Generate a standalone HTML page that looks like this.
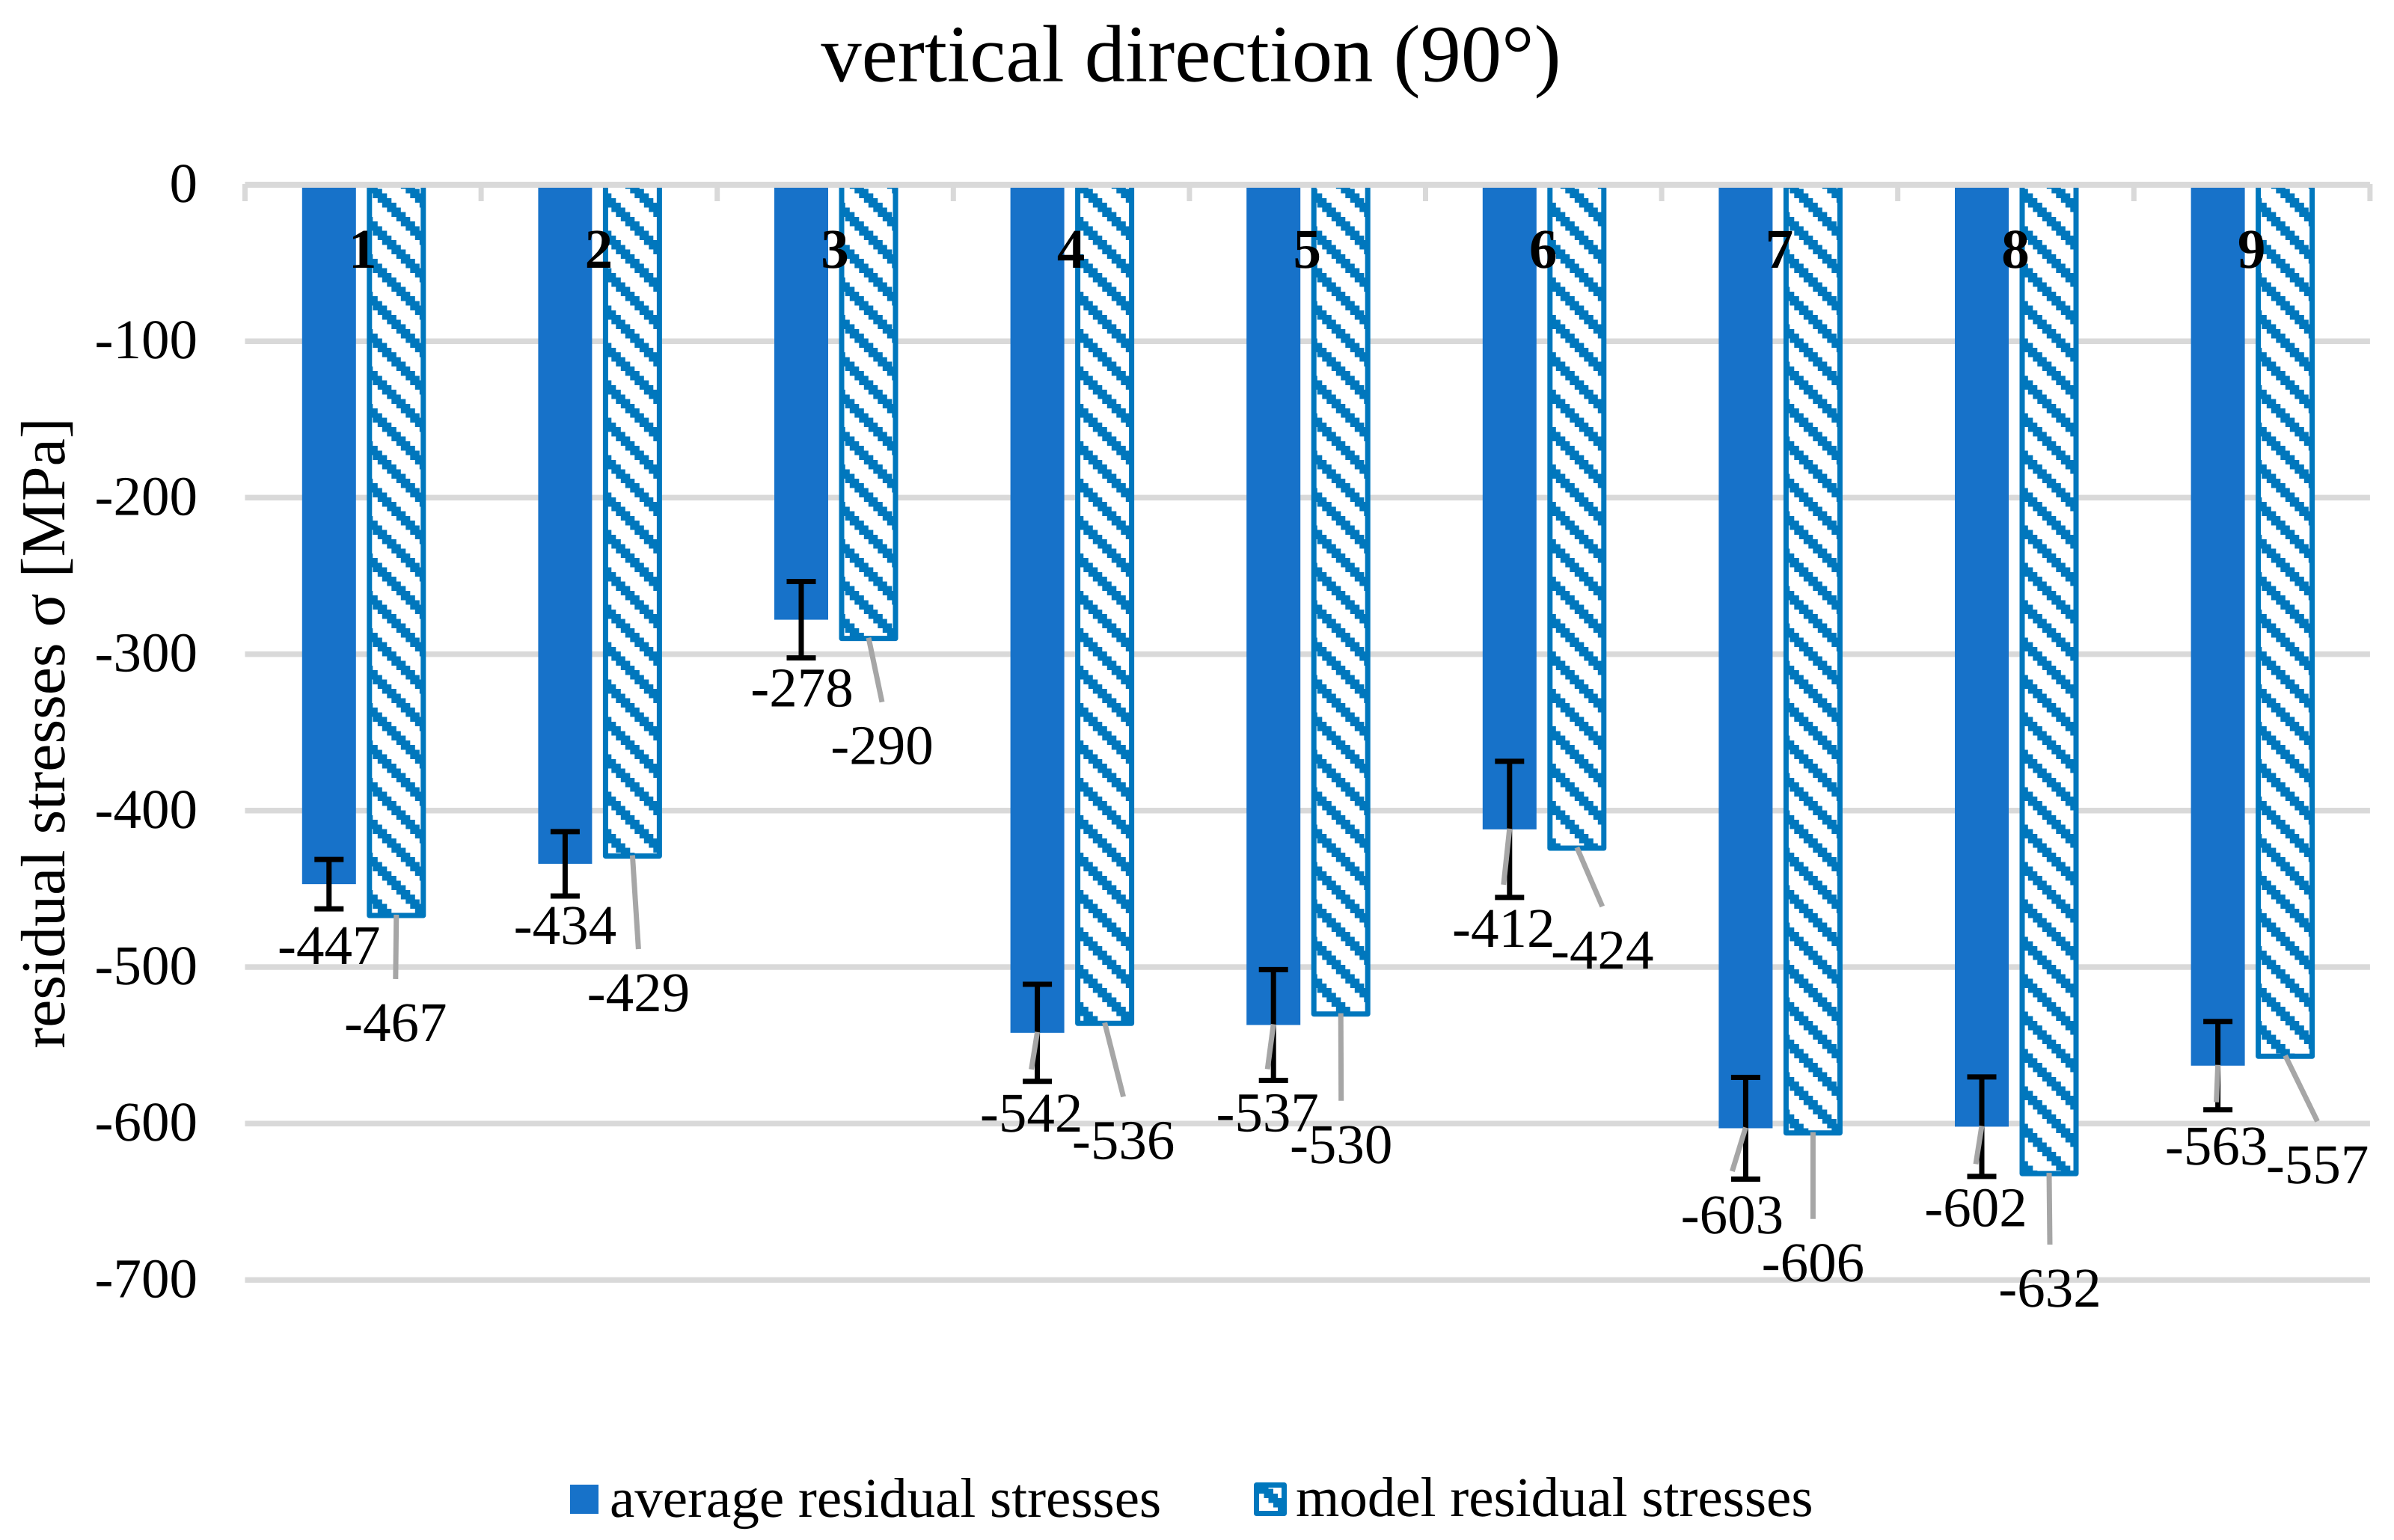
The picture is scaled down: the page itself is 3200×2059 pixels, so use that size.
<!DOCTYPE html>
<html lang="en">
<head>
<meta charset="utf-8">
<title>vertical direction (90°)</title>
<style>
html,body{margin:0;padding:0;background:#fff;width:3200px;height:2059px;overflow:hidden}
svg{display:block}
text{font-family:"Liberation Serif","DejaVu Serif",serif;fill:#000;text-rendering:geometricPrecision}
</style>
</head>
<body>
<svg id="chart" xmlns="http://www.w3.org/2000/svg" width="3200" height="2059" viewBox="0 0 3200 2059">
  <defs>
    <pattern id="hatch" x="498.3" y="296" width="50" height="50" patternUnits="userSpaceOnUse"></pattern>
    <pattern id="hatch-legend" x="1683" y="1978" width="50" height="50" patternUnits="userSpaceOnUse"></pattern>
  </defs>
  <rect x="0" y="0" width="3200" height="2059" fill="#ffffff"/>
  <text x="1592" y="108.5" font-size="108.5" text-anchor="middle">vertical direction (90°)</text>
  <text transform="translate(86 980) rotate(-90)" font-size="83.8" text-anchor="middle">residual stresses σ [MPa]</text>
  <g id="plot"></g>
  <g>
    <g>
      <rect x="762" y="1985" width="38" height="39" fill="#1772c9"/>
      <text x="815" y="2028" font-size="75">average residual stresses</text>
    </g>
    <g>
      <rect x="1679.5" y="1985.5" width="37" height="38" fill="url(#hatch-legend)" stroke="#0077bd" stroke-width="7" stroke-linejoin="round"/>
      <text x="1732" y="2027" font-size="75">model residual stresses</text>
    </g>
  </g>
</svg>
<script>
// ---- chart data ----
const categories = [1, 2, 3, 4, 5, 6, 7, 8, 9];
const averageStress = [-447, -434, -278, -542, -537, -412, -603, -602, -563];
const modelStress = [-467, -429, -290, -536, -530, -424, -606, -632, -557];
const averageError = [15.8, 20.6, 24.4, 31, 35.4, 43.5, 32.5, 31.8, 28.2];
const yTickValues = [0, -100, -200, -300, -400, -500, -600, -700];

// ---- hand-placed data-label nudges, relative to each bar end (layout, not data) ----
const averageLabelNudgeX = [0, 0, 1, -8, -8, -8, -18, -8, -2];
const averageLabelNudgeY = [107, 107, 116, 132, 142, 157, 140.5, 133, 132];
const modelLabelNudgeX = [-1, 8, 18, 25, 0.5, 34, 0, 1, 43];
const modelLabelNudgeY = [168, 207.5, 168, 181, 199, 161, 198, 178, 170];

// ---- axis functions ----
const plotLeft = 327.5;
const categoryStep = 315.6;
const zeroY = 247;
const pixelsPerMPa = 2.092;
const barWidth = 72;
const barOffset = 45;
function yScale(v) { return zeroY - v * pixelsPerMPa; }
function xCenter(i) { return plotLeft + categoryStep * (i + 0.5) - 0.5; }

const NS = 'http://www.w3.org/2000/svg';
const plot = document.getElementById('plot');
function make(tag, attrs, parent) {
  const el = document.createElementNS(NS, tag);
  for (const k in attrs) el.setAttribute(k, attrs[k]);
  (parent || plot).appendChild(el);
  return el;
}

// hatch pattern cells
['hatch', 'hatch-legend'].forEach(function (id) {
  const p = document.getElementById(id);
  make('rect', { x: 0, y: 0, width: 50, height: 50, fill: '#ffffff' }, p);
  for (let c = 0; c < 8; c++) {
    for (let k = 0; k < 3; k++) {
      make('rect', { x: c * 6.25, y: ((c + k) % 8) * 6.25, width: 6.3, height: 6.3, fill: '#0077bd', 'shape-rendering': 'crispEdges' }, p);
    }
  }
});

// gridlines (zero line is drawn later, over the bars)
yTickValues.forEach(function (v) {
  if (v !== 0) {
    const g = make('line', { x1: plotLeft, x2: plotLeft + categoryStep * categories.length, y1: yScale(v), y2: yScale(v), stroke: '#d9d9d9', 'stroke-width': 7.5 });
    
    
  }
  const t = make('text', { x: 264, y: yScale(v) + 23, 'font-size': 75, 'text-anchor': 'end' });
  t.textContent = String(v);
  
  
});

// average bars
categories.forEach(function (c, i) {
  const x = xCenter(i) - barOffset;
  const b = make('rect', { x: x - barWidth / 2, y: zeroY, width: barWidth, height: yScale(averageStress[i]) - zeroY, fill: '#1772c9' });
  
  
});

// model bars
categories.forEach(function (c, i) {
  const x = xCenter(i) + barOffset;
  const b = make('rect', { x: x - barWidth / 2, y: zeroY, width: barWidth, height: yScale(modelStress[i]) - zeroY, fill: 'url(#hatch)', stroke: '#0077bd', 'stroke-width': 7, 'stroke-linejoin': 'round' });
  
  
});

// zero axis with tick marks
const axisLine = make('line', { x1: plotLeft, x2: plotLeft + categoryStep * categories.length, y1: zeroY, y2: zeroY, stroke: '#d9d9d9', 'stroke-width': 8 });


for (let i = 0; i <= categories.length; i++) {
  const tx = plotLeft + categoryStep * i;
  const tick = make('line', { x1: tx, x2: tx, y1: zeroY - 1, y2: zeroY + 22, stroke: '#d9d9d9', 'stroke-width': 7 });
  
  
}

// category numbers sit on top of both bars
categories.forEach(function (c, i) {
  const t = make('text', { x: xCenter(i), y: 358, 'font-size': 75, 'font-weight': 'bold', 'text-anchor': 'middle' });
  t.textContent = String(c);
  
  
});

// error bars
categories.forEach(function (c, i) {
  const x = xCenter(i) - barOffset;
  const top = yScale(averageStress[i] + averageError[i]);
  const bottom = yScale(averageStress[i] - averageError[i]);
  const stem = make('line', { x1: x, x2: x, y1: top, y2: bottom, stroke: '#000000', 'stroke-width': 7 });
  
  
  const capTop = make('line', { x1: x - 19.5, x2: x + 19.5, y1: top, y2: top, stroke: '#000000', 'stroke-width': 7 });
  
  
  const capBottom = make('line', { x1: x - 19.5, x2: x + 19.5, y1: bottom, y2: bottom, stroke: '#000000', 'stroke-width': 7 });
  
  
});

// data labels and leader lines
function drawLabels(values, centerOffset, nudgeX, nudgeY, kind) {
  values.forEach(function (v, i) {
    const bx = xCenter(i) + centerOffset;
    const by = yScale(v);
    const lx = bx + nudgeX[i];
    const ly = by + nudgeY[i];
    if (ly - 83 - by > 40) {
      const leader = make('line', { x1: bx, y1: by - 1, x2: lx, y2: ly - 83, stroke: '#a6a6a6', 'stroke-width': 7 });
      
      
    }
    const t = make('text', { x: lx, y: ly, 'font-size': 75, 'text-anchor': 'middle' });
    t.textContent = String(v);
    
    
  });
}
drawLabels(averageStress, -barOffset, averageLabelNudgeX, averageLabelNudgeY, 'average');
drawLabels(modelStress, barOffset, modelLabelNudgeX, modelLabelNudgeY, 'model');
</script>
</body>
</html>
